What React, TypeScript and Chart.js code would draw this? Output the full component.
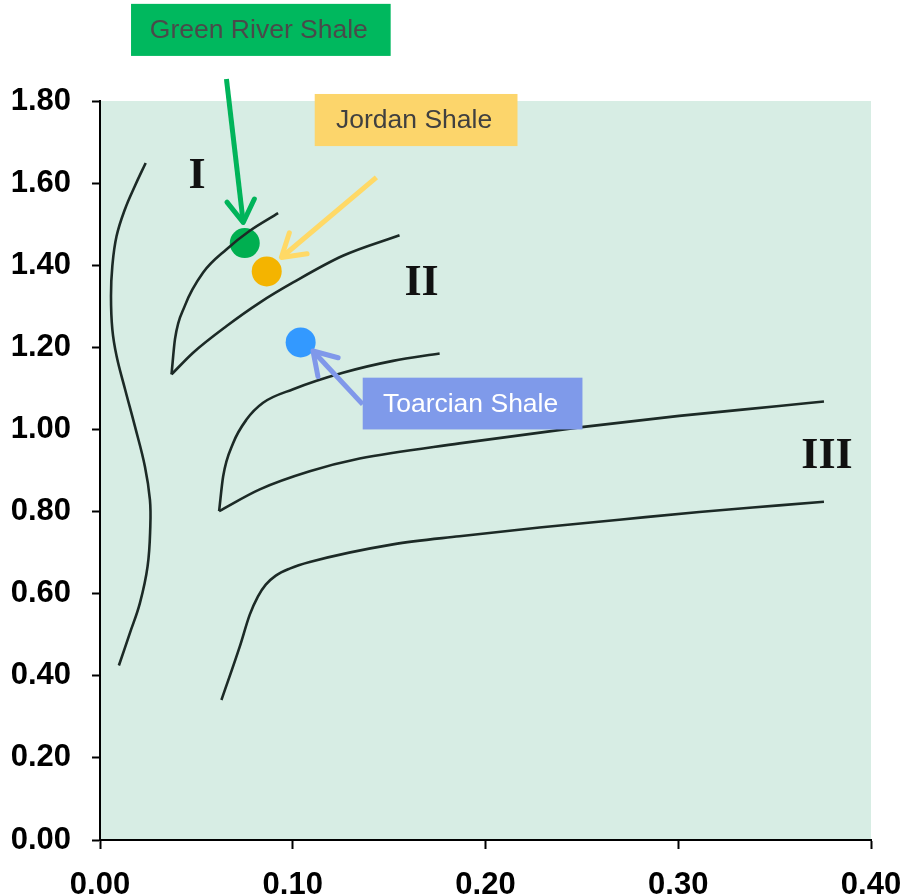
import React, { useEffect, useRef } from "react";
import { Chart, registerables } from "chart.js";

Chart.register(...registerables);

// Curves (atomic H/C vs O/C – Van Krevelen evolution paths)
const curveS_x = [0.0237, 0.0181, 0.013, 0.0086, 0.0064, 0.0057, 0.0064, 0.0086, 0.013, 0.0181, 0.0233, 0.0259, 0.0261, 0.0247, 0.0207, 0.0155, 0.0098];
const curveS_y = [1.649, 1.593, 1.537, 1.471, 1.398, 1.325, 1.244, 1.179, 1.098, 1.008, 0.91, 0.829, 0.764, 0.667, 0.577, 0.504, 0.425];

const typeIUpper_x = [0.0371, 0.0389, 0.044, 0.0535, 0.0657, 0.0777, 0.0924];
const typeIUpper_y = [1.134, 1.22, 1.301, 1.382, 1.439, 1.484, 1.527];
const typeILower_x = [0.0371, 0.0483, 0.0657, 0.0829, 0.1002, 0.126, 0.1554];
const typeILower_y = [1.134, 1.187, 1.252, 1.309, 1.358, 1.423, 1.473];

const typeIIUpper_x = [0.0618, 0.0639, 0.0691, 0.076, 0.0846, 0.1002, 0.126, 0.152, 0.1762];
const typeIIUpper_y = [0.801, 0.886, 0.967, 1.024, 1.065, 1.098, 1.138, 1.167, 1.185];
const typeIILower_x = [0.0618, 0.0829, 0.1088, 0.1347, 0.1865, 0.2487, 0.3005, 0.3523, 0.3756];
const typeIILower_y = [0.801, 0.854, 0.898, 0.929, 0.966, 1.005, 1.033, 1.057, 1.068];

const typeIII_x = [0.063, 0.0725, 0.0777, 0.0819, 0.086, 0.0912, 0.0984, 0.1088, 0.152, 0.1865, 0.228, 0.2694, 0.3109, 0.3523, 0.3756];
const typeIII_y = [0.341, 0.471, 0.549, 0.593, 0.622, 0.644, 0.661, 0.677, 0.72, 0.74, 0.761, 0.78, 0.799, 0.815, 0.824];

// Samples
const sampleNames = ["Green River Shale", "Jordan Shale", "Toarcian Shale"];
const sampleX = [0.0751, 0.0865, 0.1041];
const sampleY = [1.454, 1.385, 1.212];
const sampleColors = ["#00AF50", "#F4B400", "#3399FF"];

// Roman-numeral kerogen type labels
const typeLabels = ["I", "II", "III"];
const typeLabelX = [0.0503, 0.1668, 0.3772];
const typeLabelY = [1.615, 1.356, 0.934];

// Callout boxes (data coords)
const boxX0 = [0.0161, 0.1114, 0.1363];
const boxX1 = [0.1508, 0.2166, 0.2503];
const boxYTop = [2.0366, 1.8171, 1.1261];
const boxYBot = [1.9098, 1.6902, 1.0];
const boxFill = ["#00B85E", "#FCD56B", "#7F9AEA"];
const boxText = ["#4A4A4A", "#404040", "#FFFFFF"];

// Arrows (data coords)
const arrowTailX = [0.0656, 0.1434, 0.1363];
const arrowTailY = [1.8537, 1.6139, 1.061];
const arrowTipX = [0.0743, 0.0941, 0.1105];
const arrowTipY = [1.5041, 1.4188, 1.191];
const arrowColors = ["#00B45A", "#FFD966", "#8098EA"];

// Axis ticks
const xMin = 0, xMax = 0.4, xStep = 0.1;
const yMin = 0, yMax = 1.8, yStep = 0.2;

const zip = (xs: number[], ys: number[]) => xs.map((x, i) => ({ x, y: ys[i] }));

const curveStyle = {
  showLine: true,
  borderColor: "#1C2A26",
  borderWidth: 2.6,
  pointRadius: 0,
  fill: false,
};
const monoCurve = { ...curveStyle, cubicInterpolationMode: "monotone" as const };
const freeCurve = { ...curveStyle, tension: 0.4 };

const decorPlugin = {
  id: "decor",
  beforeDraw(chart: any) {
    const { ctx, chartArea } = chart;
    ctx.save();
    ctx.fillStyle = "#D7EDE4";
    ctx.fillRect(chartArea.left, chartArea.top, chartArea.right - chartArea.left, chartArea.bottom - chartArea.top);
    ctx.restore();
  },
  afterDatasetsDraw(chart: any) {
    const { ctx } = chart;
    const xs = chart.scales.x;
    const ys = chart.scales.y;
    ctx.save();
    // Roman labels
    ctx.fillStyle = "#111111";
    ctx.font = "bold 44px 'Liberation Serif', 'Times New Roman', serif";
    ctx.textAlign = "center";
    ctx.textBaseline = "middle";
    typeLabels.forEach((t, i) => {
      ctx.fillText(t, xs.getPixelForValue(typeLabelX[i]), ys.getPixelForValue(typeLabelY[i]));
    });
    // Arrows
    arrowColors.forEach((c, i) => {
      const x0 = xs.getPixelForValue(arrowTailX[i]);
      const y0 = ys.getPixelForValue(arrowTailY[i]);
      const x1 = xs.getPixelForValue(arrowTipX[i]);
      const y1 = ys.getPixelForValue(arrowTipY[i]);
      ctx.strokeStyle = c;
      ctx.lineWidth = 5;
      ctx.lineCap = "butt";
      ctx.beginPath();
      ctx.moveTo(x0, y0);
      ctx.lineTo(x1, y1);
      ctx.stroke();
      const ang = Math.atan2(y0 - y1, x0 - x1);
      const L = 26;
      const a = (32 * Math.PI) / 180;
      ctx.lineCap = "round";
      ctx.lineJoin = "round";
      ctx.beginPath();
      ctx.moveTo(x1 + L * Math.cos(ang + a), y1 + L * Math.sin(ang + a));
      ctx.lineTo(x1, y1);
      ctx.lineTo(x1 + L * Math.cos(ang - a), y1 + L * Math.sin(ang - a));
      ctx.stroke();
    });
    // Callout boxes
    ctx.font = "26.5px 'Liberation Sans', Arial, sans-serif";
    sampleNames.forEach((name, i) => {
      const l = xs.getPixelForValue(boxX0[i]);
      const r = xs.getPixelForValue(boxX1[i]);
      const t = ys.getPixelForValue(boxYTop[i]);
      const b = ys.getPixelForValue(boxYBot[i]);
      ctx.fillStyle = boxFill[i];
      ctx.fillRect(l, t, r - l, b - t);
      ctx.fillStyle = boxText[i];
      ctx.textAlign = "center";
      ctx.textBaseline = "middle";
      ctx.fillText(name, (l + r) / 2 - 2, (t + b) / 2 + 1);
    });
    ctx.restore();
  },
};

export default function App() {
  const ref = useRef<HTMLCanvasElement>(null);
  useEffect(() => {
    if (!ref.current) return;
    const tickFont = { family: "'Liberation Sans', Arial, sans-serif", size: 31, weight: "bold" as const };
    const chart = new Chart(ref.current, {
      type: "scatter",
      data: {
        datasets: [
          { data: zip(curveS_x, curveS_y), ...freeCurve },
          { data: zip(typeIUpper_x, typeIUpper_y), ...monoCurve },
          { data: zip(typeILower_x, typeILower_y), ...monoCurve },
          { data: zip(typeIIUpper_x, typeIIUpper_y), ...monoCurve },
          { data: zip(typeIILower_x, typeIILower_y), ...monoCurve },
          { data: zip(typeIII_x, typeIII_y), ...monoCurve },
          {
            data: zip(sampleX, sampleY),
            pointRadius: 15,
            pointHoverRadius: 15,
            pointBackgroundColor: sampleColors,
            pointBorderWidth: 0,
            showLine: false,
          } as any,
        ],
      },
      options: {
        animation: false,
        responsive: false,
        events: [],
        layout: { padding: { top: 101, right: 38, left: 0, bottom: 0 } },
        plugins: { legend: { display: false }, tooltip: { enabled: false } },
        scales: {
          x: {
            type: "linear",
            min: xMin,
            max: xMax,
            ticks: {
              stepSize: xStep,
              color: "#000",
              font: tickFont,
              padding: 18,
              maxRotation: 0,
              callback: (v: any) => Number(v).toFixed(2),
            },
            grid: { drawOnChartArea: false, drawTicks: true, tickLength: 9, tickColor: "#000", tickWidth: 2 },
            border: { display: true, color: "#000", width: 2 },
            afterFit: (s: any) => { s.height = 56; s.paddingLeft = 0; s.paddingRight = 0; },
          },
          y: {
            type: "linear",
            min: yMin,
            max: yMax,
            ticks: {
              stepSize: yStep,
              color: "#000",
              font: tickFont,
              padding: 21,
              callback: (v: any) => Number(v).toFixed(2),
            },
            grid: { drawOnChartArea: false, drawTicks: true, tickLength: 8, tickColor: "#000", tickWidth: 2 },
            border: { display: true, color: "#000", width: 2 },
            afterFit: (s: any) => { s.width = 100; s.paddingTop = 0; s.paddingBottom = 0; },
          },
        },
      },
      plugins: [decorPlugin],
    });
    return () => chart.destroy();
  }, []);
  return (
    <div style={{ position: "absolute", left: 0, top: 0, width: 909, height: 896, background: "#fff" }}>
      <canvas ref={ref} width={909} height={896} style={{ display: "block" }} />
    </div>
  );
}
